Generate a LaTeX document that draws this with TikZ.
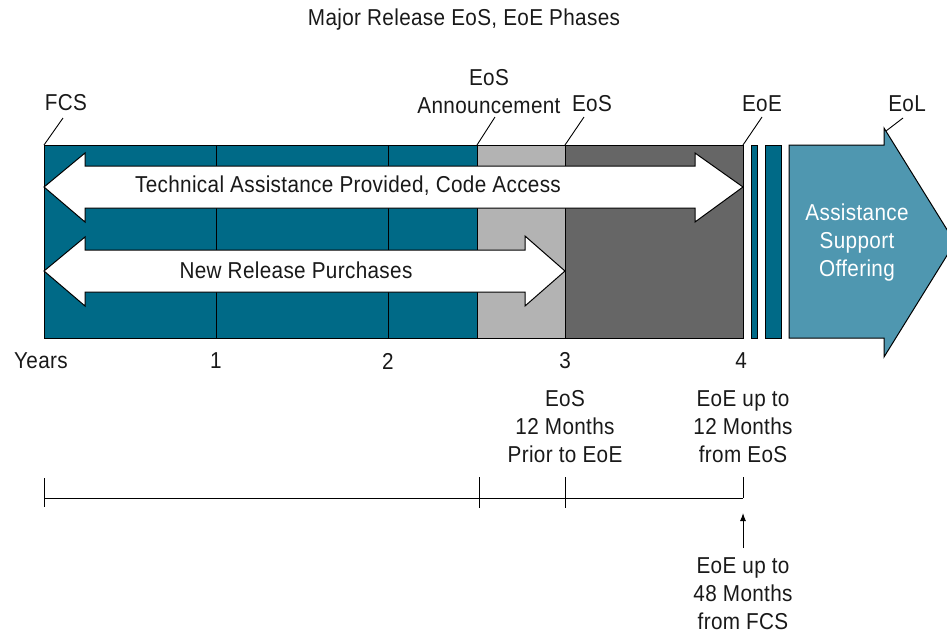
\documentclass[tikz,border=0pt]{standalone}
\usepackage{fontspec}
\setmainfont[FakeStretch=0.9,LetterSpace=1.5]{Liberation Sans}
\usetikzlibrary{arrows.meta}
\begin{document}
\begin{tikzpicture}[x=1pt,y=-1pt,
  every node/.style={font=\fontsize{23}{28}\selectfont, text=black!90, inner sep=0pt, align=center},
  seg/.style={draw=black, line width=1pt},
  whitearrow/.style={draw=black, fill=white, line width=1pt, line join=miter},
  leader/.style={draw=black, line width=0.9pt},
  axis/.style={draw=black, line width=1pt}]
\definecolor{tealdark}{HTML}{006A87}
\definecolor{teallight}{HTML}{4F97B0}
\definecolor{greylight}{HTML}{B3B3B3}
\definecolor{greydark}{HTML}{666666}
\useasboundingbox (0,0) rectangle (947,633);
\clip (0,0) rectangle (947,633);

% title
\node (title) at (464,20) {Major Release EoS, EoE Phases};

% timeline bar segments
\fill[tealdark] (44,145) rectangle (477,338);
\fill[greylight] (477,145) rectangle (565,338);
\fill[greydark] (565,145) rectangle (743,338);
\draw[seg] (216,145) -- (216,338);
\draw[seg] (388,145) -- (388,338);
\draw[seg] (477,145) -- (477,338);
\draw[seg] (565,145) -- (565,338);
\draw[seg] (44,145) rectangle (743,338);

% after end of engineering
\draw[seg, fill=tealdark] (751,145) rectangle (757,338);
\draw[seg, fill=tealdark] (765,145) rectangle (781,338);
\draw[seg, fill=teallight, line join=miter]
  (789,145) -- (884,145) -- (884,128) -- (955,242.5) -- (884,357) -- (884,338) -- (789,338) -- cycle;
\node[text=white] (aso) at (857,243) {Assistance\\Support\\Offering};

% double arrows
\draw[whitearrow] (44,187) -- (85,153) -- (85,166) -- (695,166) -- (695,153) -- (743,187)
  -- (695,222) -- (695,208) -- (85,208) -- (85,222) -- cycle;
\node (tech) at (348,186) {Technical Assistance Provided, Code Access};
\draw[whitearrow] (44,271) -- (85,237) -- (85,250) -- (525,250) -- (525,236) -- (565,271)
  -- (525,306) -- (525,292) -- (85,292) -- (85,306) -- cycle;
\node (nrp) at (296,270) {New Release Purchases};

% milestone labels with leaders
\coordinate (fcsPt) at (44,145);
\coordinate (eosaPt) at (477,145);
\coordinate (eosPt) at (565,145);
\coordinate (eoePt) at (743,145);
\coordinate (eolPt) at (886,131);
\node (fcs) at (66,103) {FCS};
\node (eosa) at (489,92) {EoS\\Announcement};
\node (eos) at (592,104) {EoS};
\node (eoe) at (762,104) {EoE};
\node (eol) at (907,104) {EoL};
\draw[leader] (63,118) -- (fcsPt);
\draw[leader] (495,117) -- (eosaPt);
\draw[leader] (584,117) -- (eosPt);
\draw[leader] (762,117) -- (eoePt);
\draw[leader] (903,118) -- (eolPt);

% year axis labels
\node (yrs) at (41,361) {Years};
\node (y1) at (216,361) {1};
\node (y2) at (388,361) {2};
\node (y3) at (565,361) {3};
\node (y4) at (741,361) {4};

% lower scale
\coordinate (s0) at (44,498);
\coordinate (s1) at (479,498);
\coordinate (s2) at (565,498);
\coordinate (s3) at (743,498);
\draw[axis] (s0) -- (s3);
\draw[axis] (44,478) -- (44,507);
\draw[axis] (479,477) -- (479,508);
\draw[axis] (565,477) -- (565,508);
\draw[axis] (743,477) -- (s3);

\node (eosnote) at (565,427) {EoS\\12 Months\\Prior to EoE};
\node (eoenote) at (743,427) {EoE up to\\12 Months\\from EoS};
\node (fcsnote) at (743,594) {EoE up to\\48 Months\\from FCS};
\coordinate (arrTail) at (743,548);
\coordinate (arrTip) at (743,513);
\draw[axis, -{Latex[length=8pt,width=6pt]}] (arrTail) -- (arrTip);
\end{tikzpicture}
\end{document}
